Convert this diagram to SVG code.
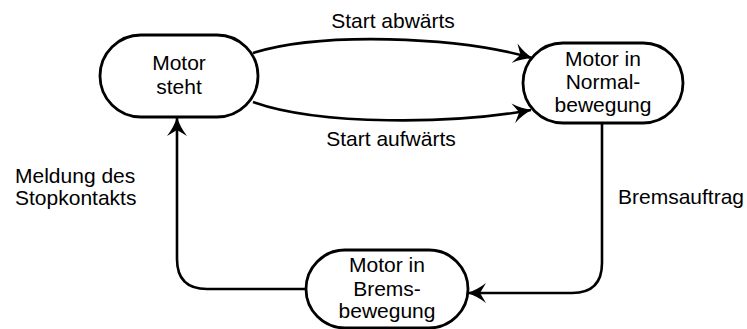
<svg xmlns="http://www.w3.org/2000/svg" width="747" height="329" viewBox="0 0 747 329">
<defs>
<style>
.node{fill:#fff;stroke:#000;stroke-width:2.8}
.edge{fill:none;stroke:#000;stroke-width:2.6}
text{font-family:"Liberation Sans",Arial,sans-serif;font-size:21px;fill:#000}
.c{text-anchor:middle}
</style>
<marker id="ah" markerUnits="userSpaceOnUse" markerWidth="20" markerHeight="20" refX="18" refY="10" orient="auto">
<path d="M0,0 Q9,7 19,10 Q9,13 0,20 L6,10 Z" fill="#000"/>
</marker>
</defs>
<rect width="747" height="329" fill="#fff"/>
<g id="connectors">
<path class="edge" d="M253,53 C320,32 455,36 532,58" marker-end="url(#ah)"/>
<path class="edge" d="M253,102 C320,126 455,124 531,110" marker-end="url(#ah)"/>
<path class="edge" d="M602,123 V263 Q602,293 572,293 H468" marker-end="url(#ah)"/>
<path class="edge" d="M305,289 H207 Q177,289 177,259 V118" marker-end="url(#ah)"/>
<text x="393" y="28" class="c">Start abwärts</text>
<text x="391" y="146" class="c">Start aufwärts</text>
<text x="618" y="204">Bremsauftrag</text>
<text x="15" y="183">Meldung des</text>
<text x="15" y="205">Stopkontakts</text>
</g>
<g id="motor-steht">
<rect class="node" x="100" y="35" width="158" height="82" rx="41" ry="41"/>
<text x="179" y="70" class="c">Motor</text>
<text x="179" y="94" class="c">steht</text>
</g>
<g id="motor-normal">
<rect class="node" x="523" y="43" width="160" height="80" rx="40" ry="40"/>
<text x="603" y="66" class="c">Motor in</text>
<text x="603" y="89" class="c">Normal-</text>
<text x="603" y="112" class="c">bewegung</text>
</g>
<g id="motor-brems">
<rect class="node" x="306" y="250" width="162" height="78" rx="39" ry="39"/>
<text x="387" y="272" class="c">Motor in</text>
<text x="387" y="296" class="c">Brems-</text>
<text x="387" y="318" class="c">bewegung</text>
</g>
</svg>
